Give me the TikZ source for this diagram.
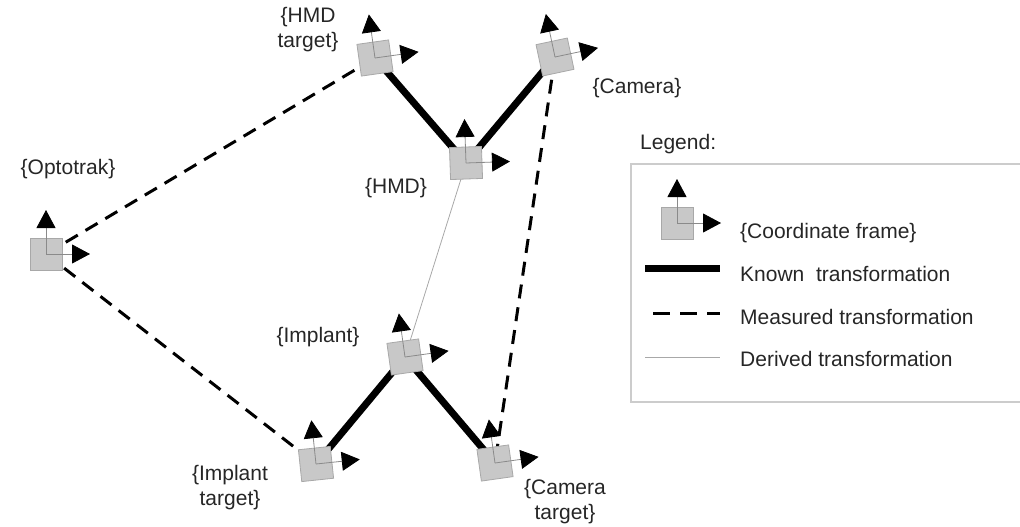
\documentclass[tikz,border=0pt]{standalone}
\usepackage{fontspec}
\setmainfont{Liberation Sans}
\usetikzlibrary{arrows.meta}
\definecolor{framefill}{HTML}{C8C8C8}
\definecolor{frameedge}{HTML}{A8A8A8}
\definecolor{axisgray}{HTML}{8A8A8A}
\definecolor{derivedgray}{HTML}{A8A8A8}
\definecolor{legendedge}{HTML}{CCCCCC}
\tikzset{
  known/.style={line width=7pt},
  measured/.style={line width=3pt, dash pattern=on 14pt off 9pt},
  derived/.style={line width=0.8pt, derivedgray},
  lbl/.style={font=\fontsize{21}{25}\selectfont, text=black!85, align=center, inner sep=0pt},
  axis/.style={axisgray, line width=0.8pt, -{Triangle[length=18pt,width=19pt,color=black]}},
  pics/cframe/.style={code={
    \fill[framefill, draw=frameedge, line width=0.8pt] (-16,-16) rectangle (16,16);
    \draw[axis] (0,0) -- (0,-44);
    \draw[axis] (0,0) -- (44,0);
  }}
}
\begin{document}
\begin{tikzpicture}[x=1pt, y=-1pt]
    \useasboundingbox (0,0) rectangle (1020,527);
    \clip (0,0) rectangle (1020,527);

    % frame origins
    \coordinate (optotrak) at (46,254);
    \coordinate (hmdtarget) at (375,58);
    \coordinate (camera) at (555,57);
    \coordinate (hmd) at (466,163);
    \coordinate (implant) at (405,357);
    \coordinate (impltarget) at (316,464);
    \coordinate (camtarget) at (495,463);

    \draw[measured] (optotrak) -- (hmdtarget);
    \draw[measured] (optotrak) -- (impltarget);
    \draw[measured] (camera) -- (camtarget);
    \draw[known] (hmdtarget) -- (hmd);
    \draw[known] (camera) -- (hmd);
    \draw[known] (implant) -- (impltarget);
    \draw[known] (implant) -- (camtarget);
    \draw[derived] (hmd) -- (implant);

    \pic at (optotrak) {cframe};
    \pic[rotate=8] at (hmdtarget) {cframe};
    \pic[rotate=12] at (camera) {cframe};
    \pic[rotate=2] at (hmd) {cframe};
    \pic[rotate=8] at (implant) {cframe};
    \pic[rotate=6] at (impltarget) {cframe};
    \pic[rotate=8] at (camtarget) {cframe};

    \node[lbl] (optotraklbl) at (68,169) {\{Optotrak\}};
    \node[lbl] (hmdtargetlbl) at (308,30) {\{HMD\\target\}};
    \node[lbl] (cameralbl) at (637,88) {\{Camera\}};
    \node[lbl] (hmdlbl) at (396,188) {\{HMD\}};
    \node[lbl] (implantlbl) at (318,337) {\{Implant\}};
    \node[lbl] (impltargetlbl) at (230,488) {\{Implant\\target\}};
    \node[lbl] (camtargetlbl) at (565,502) {\{Camera\\target\}};

    % legend
    \node[lbl, anchor=base west] (legendlbl) at (640,149) {Legend:};
    \draw[legendedge, line width=1.2pt] (631,164) rectangle (1040,402);
    \coordinate (legframe) at (677,223);
    \pic at (legframe) {cframe};
    \coordinate (knownA) at (645,268);
    \coordinate (knownB) at (720,268);
    \coordinate (measA) at (653,313);
    \coordinate (measB) at (720,313);
    \coordinate (derA) at (645,357);
    \coordinate (derB) at (720,357);
    \draw[known] (knownA) -- (knownB);
    \draw[measured, dash pattern=on 17pt off 10pt] (measA) -- (measB);
    \draw[derived] (derA) -- (derB);
    \node[lbl, anchor=west] (framelbl) at (740,233) {\{Coordinate frame\}};
    \node[lbl, anchor=west] (knownlbl) at (740,274) {Known~ transformation};
    \node[lbl, anchor=west] (measlbl) at (740,317) {Measured transformation};
    \node[lbl, anchor=west] (derlbl) at (740,359) {Derived transformation};
\end{tikzpicture}
\end{document}
